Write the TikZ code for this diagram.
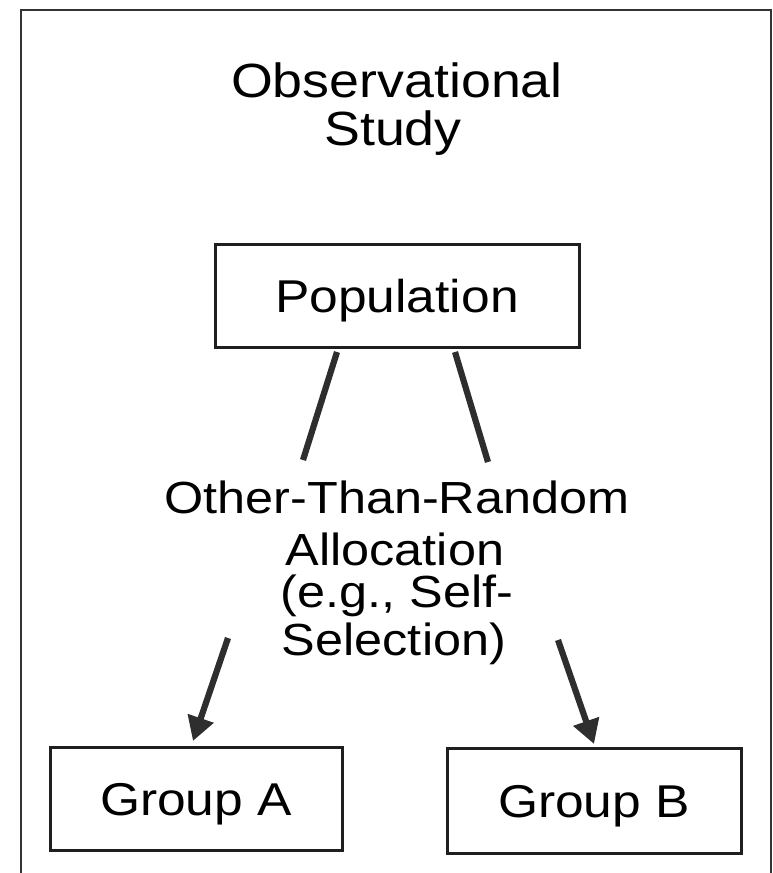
\documentclass[tikz,border=0pt]{standalone}
\usepackage{fontspec}
\setmainfont{Liberation Sans}[FakeStretch=1.12]
\usetikzlibrary{arrows.meta}
\begin{document}
\begin{tikzpicture}[x=1pt,y=-1pt,
  txt/.style={inner sep=0pt,anchor=base,font={\fontsize{45}{54}\selectfont}},
  boxnode/.style={draw=black!88,line width=3pt,inner sep=0pt,
    text height=33pt,text depth=0pt,font={\fontsize{46}{54}\selectfont}},
  link/.style={draw=black!82,line width=6.2pt},
  arrowlink/.style={link,-{Triangle[width=26pt,length=24pt]}}]
\useasboundingbox (0,0) rectangle (773,873);
% frame
\draw[black!80,line width=2.2pt] (21,873) -- (21,10) -- (771,10) -- (771,873);
% title
\node[txt,font={\fontsize{48}{48}\selectfont}] (t1) at (397,97) {Observational};
\node[txt,font={\fontsize{48}{48}\selectfont}] (t2) at (393,145) {Study};
% boxes
\node[boxnode,minimum width=364pt,minimum height=103pt] (pop) at (397,295.5) {Population};
\node[boxnode,minimum width=292pt,minimum height=103pt] (ga) at (196,798.5) {Group A};
\node[boxnode,minimum width=294pt,minimum height=105pt] (gb) at (594,800.5) {Group B};
% middle text
\node[txt] (m1) at (397,513) {Other-Than-Random};
\node[txt] (m2) at (395,565) {Allocation};
\node[txt,text height=30pt] (m3) at (397,607) {(e.g., Self-};
\node[txt] (m4) at (394,655) {Selection)};
% connector end points
\coordinate (l1a) at (337,352);
\coordinate (l1b) at (303,460);
\coordinate (l2a) at (455,352);
\coordinate (l2b) at (488,462);
\coordinate (a1a) at (228,638);
\coordinate (a1b) at (193,741);
\coordinate (a2a) at (558,640);
\coordinate (a2b) at (594,744);
% connectors
\draw[link] (l1a) -- (l1b);
\draw[link] (l2a) -- (l2b);
\draw[arrowlink] (a1a) -- (a1b);
\draw[arrowlink] (a2a) -- (a2b);
\end{tikzpicture}
\end{document}
